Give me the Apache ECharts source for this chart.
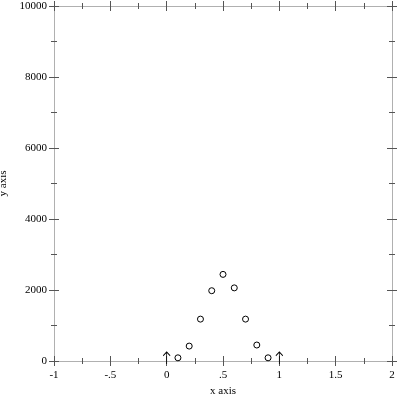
<!DOCTYPE html>
<html><head><meta charset="utf-8">
<script src="https://cdn.jsdelivr.net/npm/echarts@6/dist/echarts.min.js"></script>
<style>html,body{margin:0;padding:0;background:#fff}#c{width:400px;height:400px}</style>
</head><body><div id="c"></div>
<script>
const xs = [0.1, 0.2, 0.3, 0.4, 0.5, 0.6, 0.7, 0.8, 0.9];
const ys = [90, 420, 1180, 1980, 2440, 2060, 1180, 450, 90];
const arrowXs = [0, 1];
const arrowYs = [0, 0];
const xRange = [-1, 2];
const yRange = [0, 10000];
const xName = 'x axis';
const yName = 'y axis';

const FONT = '"Liberation Serif", "Times New Roman", serif';
const LINE = '#b0b0b0';
const TICK = '#555';
const fmtX = v => String(v).replace(/^0\./, '.').replace(/^-0\./, '-.');
const fmtY = v => String(v);

function xAx(pos, inside, main) {
  const lab = main && pos === 'bottom' && !inside;
  return {
    type: 'value', position: pos, min: xRange[0], max: xRange[1], interval: 0.5,
    axisLine: { show: main, onZero: false, lineStyle: { color: LINE, width: 1 } },
    axisTick: { show: true, inside: inside, length: 5, lineStyle: { color: TICK } },
    minorTick: { show: true, splitNumber: 2, length: 3, lineStyle: { color: TICK } },
    splitLine: { show: false }, minorSplitLine: { show: false },
    axisLabel: { show: lab, margin: 9, color: '#000', fontFamily: FONT, fontSize: 11, formatter: fmtX, showMinLabel: true, showMaxLabel: true },
    name: lab ? xName : '',
    nameLocation: 'middle', nameGap: 25,
    nameTextStyle: { color: '#000', fontFamily: FONT, fontSize: 11 }
  };
}
function yAx(pos, inside, main) {
  const lab = main && pos === 'left' && !inside;
  return {
    type: 'value', position: pos, min: yRange[0], max: yRange[1], interval: 2000,
    axisLine: { show: main, onZero: false, lineStyle: { color: LINE, width: 1 } },
    axisTick: { show: true, inside: inside, length: 5, lineStyle: { color: TICK } },
    minorTick: { show: true, splitNumber: 2, length: 3, lineStyle: { color: TICK } },
    splitLine: { show: false }, minorSplitLine: { show: false },
    axisLabel: { show: lab, margin: 7, color: '#000', fontFamily: FONT, fontSize: 11, formatter: fmtY, showMinLabel: true, showMaxLabel: true },
    name: lab ? yName : '',
    nameLocation: 'middle', nameGap: 40, nameRotate: 90,
    nameTextStyle: { color: '#000', fontFamily: FONT, fontSize: 11 }
  };
}

const chart = echarts.init(document.getElementById('c'), null, { renderer: 'canvas' });
chart.setOption({
  animation: false,
  backgroundColor: '#fff',
  grid: { left: 54, right: 8, top: 6, bottom: 39, containLabel: false, outerBoundsMode: 'none' },
  xAxis: [xAx('bottom', false, true), xAx('bottom', true, false), xAx('top', false, true), xAx('top', true, false)],
  yAxis: [yAx('left', false, true), yAx('left', true, false), yAx('right', false, true), yAx('right', true, false)],
  series: [
    {
      type: 'scatter', xAxisIndex: 0, yAxisIndex: 0,
      data: xs.map((x, i) => [x, ys[i]]),
      symbol: 'circle', symbolSize: 6,
      itemStyle: { color: '#fff', borderColor: '#000', borderWidth: 1, opacity: 1 }
    },
    {
      type: 'scatter', xAxisIndex: 0, yAxisIndex: 0,
      data: arrowXs.map((x, i) => [x, arrowYs[i]]),
      symbol: 'path://M5,0 L5,16 M1,5 L5,0 L9,5',
      symbolSize: [7, 12], symbolOffset: [0, -3],
      itemStyle: { color: 'rgba(0,0,0,0)', borderColor: '#000', borderWidth: 1, opacity: 1 }
    }
  ]
});
</script>
</body></html>
